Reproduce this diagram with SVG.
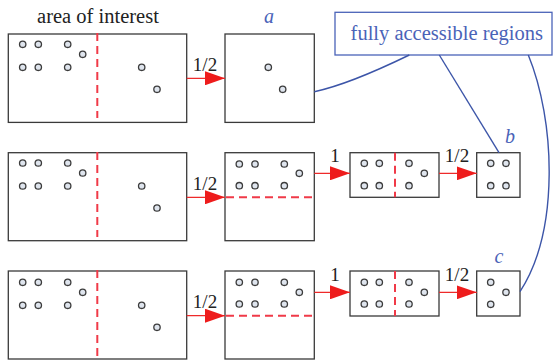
<svg xmlns="http://www.w3.org/2000/svg" width="554" height="360" viewBox="0 0 554 360">
<defs>
<style>
.box{fill:#fff;stroke:#3a3a3a;stroke-width:1.3}
.pt{fill:#dfe5ee;stroke:#3c3c3c;stroke-width:1.3}
.dash{stroke:#f03a48;stroke-width:2;stroke-dasharray:8,5;fill:none}
.arr{stroke:#ee2a2a;stroke-width:1.3;fill:none;marker-end:url(#ah)}
.serif{font-family:'Liberation Serif','DejaVu Serif','Times New Roman',serif}
.lbl{font-size:19px;fill:#222}
.it{font-size:20px;font-style:italic;fill:#4a63b8}
.blue{stroke:#3c55a8;stroke-width:1.4;fill:none}
</style>
<marker id="ah" markerWidth="20" markerHeight="14" refX="20" refY="7" orient="auto" markerUnits="userSpaceOnUse">
<path d="M0,0 L20,7 L0,14 z" fill="#ee1c1c"/>
</marker>
<g id="big">
<circle class="pt" cx="22.7" cy="44.3" r="3.2"/><circle class="pt" cx="38.3" cy="44.3" r="3.2"/><circle class="pt" cx="67.7" cy="44.3" r="3.2"/>
<circle class="pt" cx="82.7" cy="54.3" r="3.2"/>
<circle class="pt" cx="22.7" cy="67.3" r="3.2"/><circle class="pt" cx="38.3" cy="67.3" r="3.2"/><circle class="pt" cx="67.7" cy="67.3" r="3.2"/>
<circle class="pt" cx="141.7" cy="67.3" r="3.2"/><circle class="pt" cx="157" cy="89.3" r="3.2"/>
</g>
</defs>

<text class="serif lbl" x="98" y="23" text-anchor="middle" font-family="Liberation Serif, DejaVu Serif, serif" style="font-size:20.5px">area of interest</text>

<g id="row1-src">
<rect class="box" x="8.3" y="34" width="178.4" height="88.4"/>
<line class="dash" x1="97.3" y1="33" x2="97.3" y2="118"/>
<use href="#big"/>
</g>
<g id="row1-a">
<rect class="box" x="225" y="34" width="89.3" height="88.4"/>
<circle class="pt" cx="268.3" cy="67.3" r="3.2"/><circle class="pt" cx="282.7" cy="89.3" r="3.2"/>
<text class="serif it" x="269" y="23" text-anchor="middle" font-family="Liberation Serif, DejaVu Serif, serif">a</text>
</g>

<g id="row2-src">
<rect class="box" x="8.3" y="152.7" width="178.4" height="88"/>
<line class="dash" x1="97.3" y1="152" x2="97.3" y2="237"/>
<use href="#big" transform="translate(0,118.7)"/>
</g>
<g id="row2-half">
<rect class="box" x="225" y="152.7" width="89.3" height="88"/>
<circle class="pt" cx="239.3" cy="164" r="3.2"/><circle class="pt" cx="255" cy="164" r="3.2"/><circle class="pt" cx="284.3" cy="164" r="3.2"/>
<circle class="pt" cx="299.3" cy="173.3" r="3.2"/>
<circle class="pt" cx="239.3" cy="185.7" r="3.2"/><circle class="pt" cx="255" cy="185.7" r="3.2"/><circle class="pt" cx="284.3" cy="185.7" r="3.2"/>
<line class="dash" x1="226" y1="197.3" x2="314" y2="197.3"/>
</g>
<g id="row2-mid">
<rect class="box" x="350" y="152.7" width="89" height="44.6"/>
<line class="dash" x1="395" y1="152.7" x2="395" y2="197.3"/>
<circle class="pt" cx="364.3" cy="163.3" r="3.2"/><circle class="pt" cx="379.3" cy="163.3" r="3.2"/><circle class="pt" cx="409" cy="163.3" r="3.2"/>
<circle class="pt" cx="424.3" cy="173.3" r="3.2"/>
<circle class="pt" cx="364.3" cy="185.7" r="3.2"/><circle class="pt" cx="379.3" cy="185.7" r="3.2"/><circle class="pt" cx="409" cy="185.7" r="3.2"/>
</g>
<g id="row2-b">
<rect class="box" x="476.7" y="152.7" width="43.3" height="44.6"/>
<circle class="pt" cx="490.7" cy="163.3" r="3.2"/><circle class="pt" cx="506" cy="163.3" r="3.2"/>
<circle class="pt" cx="490.7" cy="185.7" r="3.2"/><circle class="pt" cx="506" cy="185.7" r="3.2"/>
<text class="serif it" x="510" y="143" text-anchor="middle" font-family="Liberation Serif, DejaVu Serif, serif">b</text>
</g>

<g id="row3-src">
<rect class="box" x="8.3" y="271" width="178.4" height="88"/>
<line class="dash" x1="97.3" y1="270" x2="97.3" y2="356"/>
<use href="#big" transform="translate(0,238)"/>
</g>
<g id="row3-half">
<rect class="box" x="225" y="271" width="89.3" height="88"/>
<circle class="pt" cx="239.3" cy="282.3" r="3.2"/><circle class="pt" cx="255" cy="282.3" r="3.2"/><circle class="pt" cx="284.3" cy="282.3" r="3.2"/>
<circle class="pt" cx="299.3" cy="292.3" r="3.2"/>
<circle class="pt" cx="239.3" cy="304" r="3.2"/><circle class="pt" cx="255" cy="304" r="3.2"/><circle class="pt" cx="284.3" cy="304" r="3.2"/>
<line class="dash" x1="226" y1="315.7" x2="314" y2="315.7"/>
</g>
<g id="row3-mid">
<rect class="box" x="350" y="271" width="89" height="45"/>
<line class="dash" x1="395" y1="271" x2="395" y2="316"/>
<circle class="pt" cx="364.3" cy="282.3" r="3.2"/><circle class="pt" cx="379.3" cy="282.3" r="3.2"/><circle class="pt" cx="409" cy="282.3" r="3.2"/>
<circle class="pt" cx="424.3" cy="292.3" r="3.2"/>
<circle class="pt" cx="364.3" cy="304" r="3.2"/><circle class="pt" cx="379.3" cy="304" r="3.2"/><circle class="pt" cx="409" cy="304" r="3.2"/>
</g>
<g id="row3-c">
<rect class="box" x="476.7" y="271" width="43.3" height="45"/>
<circle class="pt" cx="490.7" cy="282.3" r="3.2"/><circle class="pt" cx="506" cy="292.3" r="3.2"/>
<circle class="pt" cx="490.7" cy="304.3" r="3.2"/>
<text class="serif it" x="499" y="263" text-anchor="middle" font-family="Liberation Serif, DejaVu Serif, serif">c</text>
</g>

<g id="label-box">
<rect x="335" y="12.3" width="217" height="42.7" fill="#fff" stroke="#4a63b8" stroke-width="1.3"/>
<text class="serif" x="446.8" y="40" text-anchor="middle" font-family="Liberation Serif, DejaVu Serif, serif" font-size="20.5" fill="#4a63b8">fully accessible regions</text>
</g>

<g id="connectors">
<line class="arr" x1="186.7" y1="78.3" x2="225" y2="78.3"/>
<line class="arr" x1="186.7" y1="197.3" x2="225" y2="197.3"/>
<line class="arr" x1="314.3" y1="173.3" x2="350" y2="173.3"/>
<line class="arr" x1="439" y1="173.3" x2="476.7" y2="173.3"/>
<line class="arr" x1="186.7" y1="315.7" x2="225" y2="315.7"/>
<line class="arr" x1="314.3" y1="292.3" x2="350" y2="292.3"/>
<line class="arr" x1="439" y1="292.3" x2="476.7" y2="292.3"/>
<g class="serif lbl" font-family="Liberation Serif, DejaVu Serif, serif" text-anchor="middle">
<text x="205" y="71">1/2</text>
<text x="205" y="190">1/2</text>
<text x="335" y="162">1</text>
<text x="457" y="162">1/2</text>
<text x="205" y="308">1/2</text>
<text x="335" y="281">1</text>
<text x="457" y="281">1/2</text>
</g>
<path class="blue" d="M409.3,55 Q348.5,84.5 314.3,91.7"/>
<path class="blue" d="M439.3,55 L499,152.7"/>
<path class="blue" d="M528.3,55 C555,120 560,230 520,291.7"/>
</g>
</svg>
